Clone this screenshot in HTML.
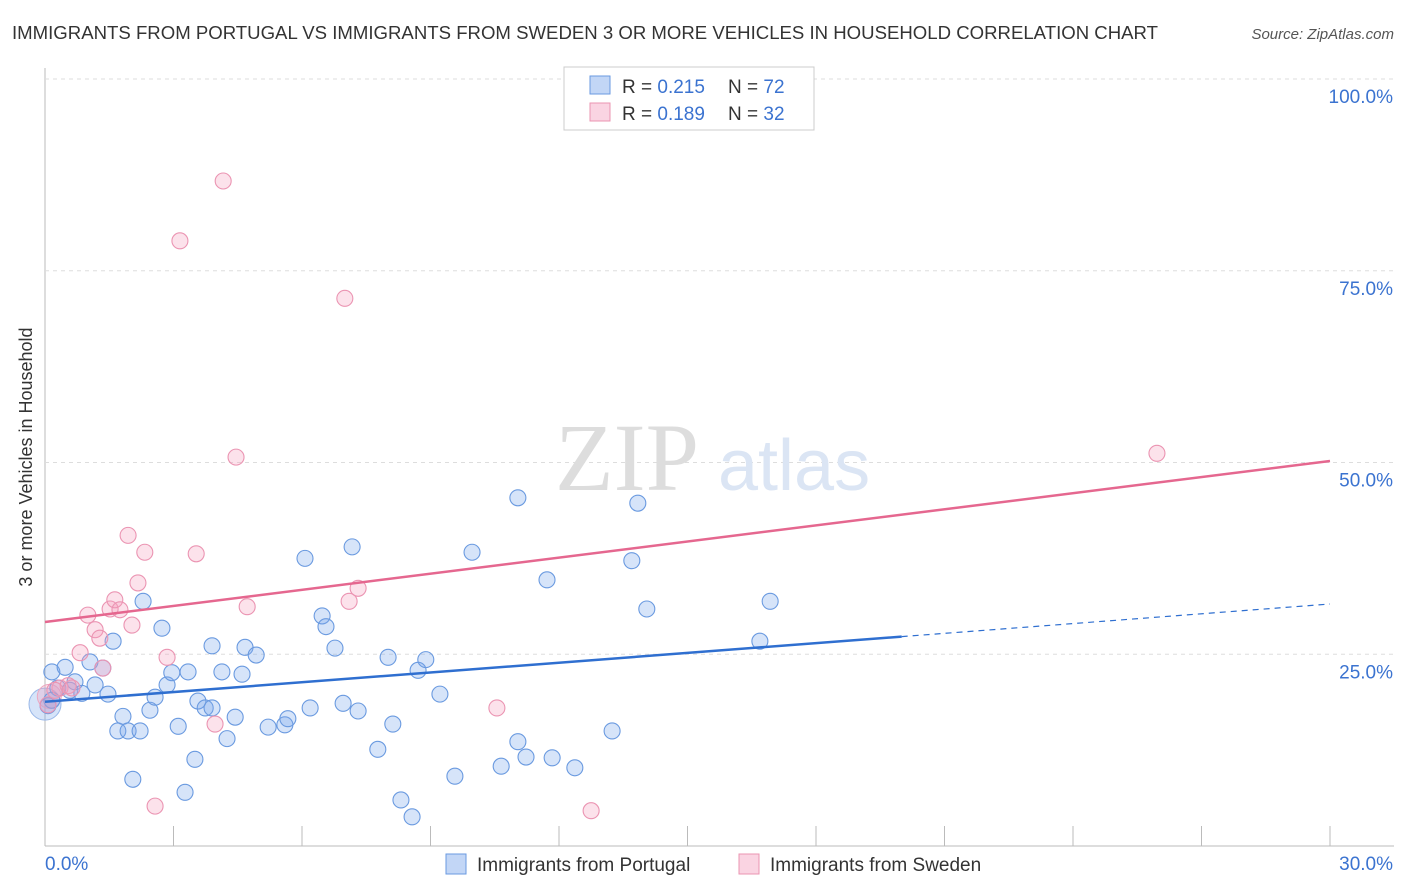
<!DOCTYPE html>
<html><head><meta charset="utf-8"><style>
body{margin:0;background:#fff;font-family:"Liberation Sans",sans-serif}
svg{display:block}
</style></head><body>
<svg id="c" width="1406" height="892" xmlns="http://www.w3.org/2000/svg">
<text x="12" y="39" font-size="18" fill="#333" textLength="1146" lengthAdjust="spacingAndGlyphs">IMMIGRANTS FROM PORTUGAL VS IMMIGRANTS FROM SWEDEN 3 OR MORE VEHICLES IN HOUSEHOLD CORRELATION CHART</text>
<text x="1394" y="39" font-size="15" fill="#555" font-style="italic" text-anchor="end">Source: ZipAtlas.com</text>
<text x="32" y="457" font-size="18" fill="#333" text-anchor="middle" transform="rotate(-90 32 457)">3 or more Vehicles in Household</text>
<g id="grid"></g>
<text x="555" y="490" font-size="96" fill="#ddd" font-family="Liberation Serif,serif">ZIP</text>
<text x="718" y="490" font-size="72" fill="#dbe5f4">atlas</text>
<g id="marks"></g>
<g>
<rect x="564" y="67" width="250" height="63" fill="#fff" stroke="#ccc"/>
<rect x="590" y="76" width="20" height="18" fill="rgba(120,165,235,0.45)" stroke="#6a9ae0"/>
<rect x="590" y="103" width="20" height="18" fill="rgba(245,160,190,0.45)" stroke="#eb94b2"/>
<text x="622" y="93" font-size="19" fill="#333">R = <tspan fill="#3b73d0">0.215</tspan></text>
<text x="728" y="93" font-size="19" fill="#333">N = <tspan fill="#3b73d0">72</tspan></text>
<text x="622" y="120" font-size="19" fill="#333">R = <tspan fill="#3b73d0">0.189</tspan></text>
<text x="728" y="120" font-size="19" fill="#333">N = <tspan fill="#3b73d0">32</tspan></text>
</g>
<g>
<rect x="446" y="854" width="20" height="20" fill="rgba(120,165,235,0.45)" stroke="#6a9ae0"/>
<text x="477" y="871" font-size="19" fill="#333">Immigrants from Portugal</text>
<rect x="739" y="854" width="20" height="20" fill="rgba(245,160,190,0.45)" stroke="#eb94b2"/>
<text x="770" y="871" font-size="19" fill="#333">Immigrants from Sweden</text>
</g>
</svg>
<script>
const yTicks=[25,50,75,100];
const xTickLabels=["0.0%","30.0%"];
const blueX=[0.16,0.47,0.30,0.58,0.70,0.86,1.05,1.17,1.35,1.47,1.59,1.70,1.82,1.94,2.05,2.22,2.29,2.45,2.57,2.73,2.85,2.96,3.11,3.27,3.34,3.50,3.57,3.74,3.90,3.90,4.13,4.25,4.44,4.60,4.67,4.93,5.21,5.60,5.67,6.07,6.19,6.47,6.56,6.77,6.96,7.17,7.31,7.77,8.01,8.12,8.31,8.57,8.71,8.89,9.22,9.57,9.97,10.65,11.04,11.04,11.23,11.72,11.84,12.37,13.24,13.70,13.84,14.05,16.69,16.93,0.07,0.16];
const blueY=[22.7,23.3,20.6,20.3,21.4,19.9,24.0,21.0,23.2,19.8,26.7,15.0,16.9,15.0,8.7,15.0,31.9,17.7,19.4,28.4,21.0,22.6,15.6,7.0,22.7,11.3,18.9,18.0,26.1,18.0,22.7,14.0,16.8,22.4,25.9,24.9,15.5,15.8,16.6,37.5,18.0,30.0,28.6,25.8,18.6,39.0,17.6,12.6,24.6,15.9,6.0,3.8,22.9,24.3,19.8,9.1,38.3,10.4,45.4,13.6,11.6,34.7,11.5,10.2,15.0,37.2,44.7,30.9,26.7,31.9,18.3,19.0];
const pinkX=[0.07,0.35,0.54,0.82,1.00,1.17,1.28,1.35,1.52,1.63,1.75,1.94,2.03,2.17,2.33,2.57,2.85,3.15,3.53,3.97,4.16,4.46,4.72,7.00,7.10,7.31,10.55,12.75,25.96,0.23,0.63];
const pinkY=[18.4,20.6,20.9,25.2,30.1,28.2,27.1,23.2,30.9,32.1,30.8,40.5,28.8,34.3,38.3,5.2,24.6,78.9,38.1,15.9,86.7,50.7,31.2,71.4,31.9,33.6,18.0,4.6,51.2,20.3,20.6];
const blueTrend=[18.8,31.55], blueSolidEnd=20;
const pinkTrend=[29.2,50.2];
const X=v=>45+v/30*1285, Y=v=>846-v*7.67;
const NS="http://www.w3.org/2000/svg";
function mk(t,a,p){const e=document.createElementNS(NS,t);for(const k in a)e.setAttribute(k,a[k]);p.appendChild(e);return e;}
const g=document.getElementById('grid'), m=document.getElementById('marks');
let l=mk('line',{x1:45,y1:68,x2:45,y2:846,stroke:'#bbb'},g);


l=mk('line',{x1:45,y1:846,x2:1394,y2:846,stroke:'#bbb'},g);


for(let i=0;i<=10;i++){const t=mk('line',{x1:X(i*3),x2:X(i*3),y1:826,y2:846,stroke:'#bbb'},g);

}
yTicks.forEach(v=>{const gl=mk('line',{x1:45,x2:1394,y1:Y(v),y2:Y(v),stroke:'#ddd','stroke-dasharray':'4,4'},g);


const t=mk('text',{x:1393,y:Y(v)+24,'font-size':19,fill:'#3b73d0','text-anchor':'end'},g);t.textContent=v.toFixed(1)+'%';

});
let xl=mk('text',{x:45,y:870,'font-size':19,fill:'#3b73d0'},g);xl.textContent=xTickLabels[0];


xl=mk('text',{x:1393,y:870,'font-size':19,fill:'#3b73d0','text-anchor':'end'},g);xl.textContent=xTickLabels[1];


let big=mk('circle',{cx:X(0),cy:Y(18.5),r:16,fill:'rgba(120,165,235,0.3)',stroke:'#9ab8e8'},m);


big=mk('circle',{cx:X(0.1),cy:Y(19.5),r:12,fill:'rgba(245,160,190,0.3)',stroke:'#eda8c0'},m);


blueX.forEach((x,i)=>{const c=mk('circle',{cx:X(x),cy:Y(blueY[i]),r:8,fill:'rgba(120,165,235,0.3)',stroke:'#6a9ae0','stroke-width':1.1},m);

});
pinkX.forEach((x,i)=>{const c=mk('circle',{cx:X(x),cy:Y(pinkY[i]),r:8,fill:'rgba(245,160,190,0.3)',stroke:'#eb94b2','stroke-width':1.1},m);

});
const by=x=>blueTrend[0]+(blueTrend[1]-blueTrend[0])*x/30;
let t=mk('line',{x1:X(0),y1:Y(by(0)),x2:X(blueSolidEnd),y2:Y(by(blueSolidEnd)),stroke:'#2f6fd0','stroke-width':2.5},m);


t=mk('line',{x1:X(blueSolidEnd),y1:Y(by(blueSolidEnd)),x2:X(30),y2:Y(by(30)),stroke:'#2f6fd0','stroke-width':1.2,'stroke-dasharray':'6,5'},m);


t=mk('line',{x1:X(0),y1:Y(pinkTrend[0]),x2:X(30),y2:Y(pinkTrend[1]),stroke:'#e5678f','stroke-width':2.5},m);


</script>
</body></html>
